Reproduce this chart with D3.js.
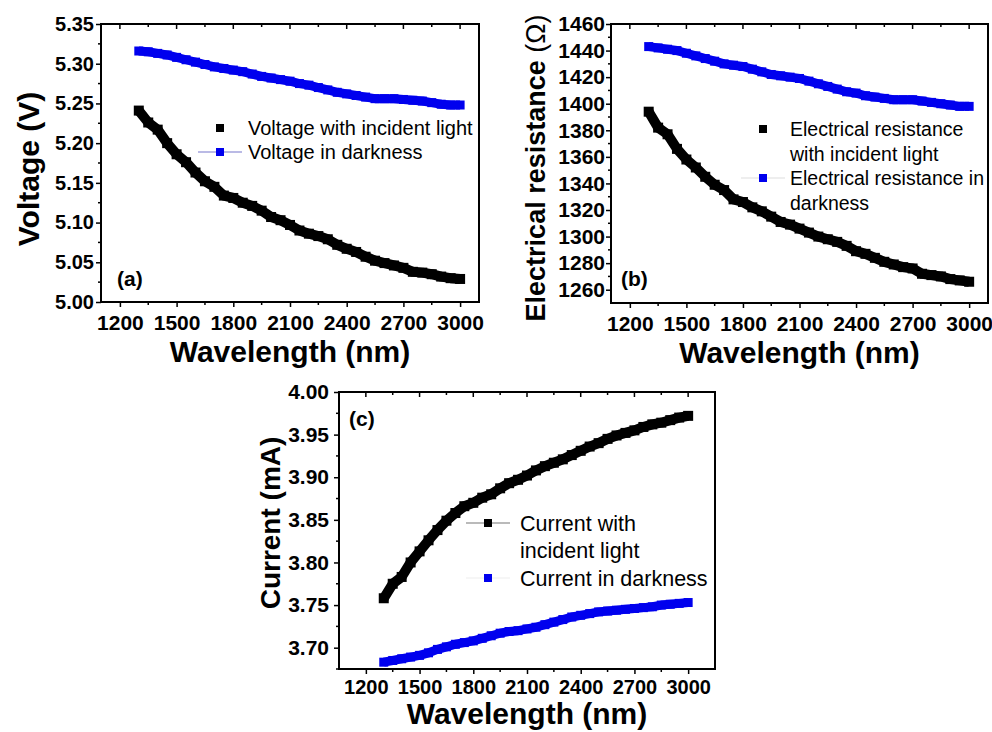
<!DOCTYPE html>
<html>
<head>
<meta charset="utf-8">
<script src="https://cdn.jsdelivr.net/npm/d3@7"></script>
<style>
  body { margin: 0; background: #fff; }
  svg { display: block; font-family: "Liberation Sans", Arial, sans-serif; }
</style>
</head>
<body>
<svg width="992" height="732"></svg>
<script>
// wavelengths (nm), shared by all three panels
const wavelength = [1300,1350,1400,1450,1500,1550,1600,1650,1700,1750,1800,1850,1900,1950,2000,2050,2100,2150,2200,2250,2300,2350,2400,2450,2500,2550,2600,2650,2700,2750,2800,2850,2900,2950,3000];

// (a) voltage, V
const voltageLight = [5.241,5.226,5.217,5.200,5.186,5.176,5.163,5.152,5.145,5.134,5.131,5.125,5.121,5.115,5.107,5.103,5.097,5.090,5.086,5.083,5.079,5.072,5.067,5.063,5.057,5.052,5.049,5.046,5.043,5.038,5.037,5.035,5.032,5.030,5.029];
const voltageDark = [5.316,5.315,5.313,5.311,5.308,5.305,5.302,5.299,5.296,5.294,5.292,5.290,5.287,5.284,5.282,5.280,5.278,5.275,5.273,5.270,5.267,5.264,5.262,5.260,5.258,5.256,5.256,5.256,5.255,5.254,5.253,5.251,5.249,5.248,5.248];

// (b) electrical resistance, ohm
const resistLight = [1394,1382,1377,1366,1358,1352,1345,1339,1335,1328,1326,1322,1319,1315,1311,1309,1306,1303,1300,1298,1296,1293,1289,1287,1284,1281,1279,1277,1276,1272,1271,1270,1268,1267,1266];
const resistDark = [1443,1442,1441,1440,1438,1436,1434,1432,1430,1429,1428,1426,1424,1422,1421,1420,1419,1417,1415,1413,1411,1409,1408,1406,1405,1404,1403,1403,1403,1402,1401,1400,1399,1398,1398];

// (c) current, mA
const currentLight = [3.758,3.775,3.783,3.800,3.813,3.826,3.838,3.849,3.858,3.866,3.870,3.876,3.880,3.887,3.893,3.897,3.902,3.908,3.913,3.917,3.921,3.926,3.931,3.936,3.940,3.945,3.949,3.952,3.955,3.959,3.962,3.964,3.967,3.970,3.972];
const currentDark = [3.683,3.685,3.687,3.689,3.691,3.694,3.698,3.701,3.704,3.706,3.708,3.711,3.714,3.717,3.719,3.720,3.722,3.724,3.727,3.730,3.733,3.736,3.738,3.740,3.742,3.743,3.744,3.745,3.746,3.747,3.748,3.750,3.751,3.752,3.753];

const xTicks = [1200,1500,1800,2100,2400,2700,3000];
const yTicksA = [5.00,5.05,5.10,5.15,5.20,5.25,5.30,5.35];
const yTicksB = [1260,1280,1300,1320,1340,1360,1380,1400,1420,1440,1460];
const yTicksC = [3.70,3.75,3.80,3.85,3.90,3.95,4.00];

const svg = d3.select("svg");
const BLUE = "#0000ee";

function panel(o) {
  const x = d3.scaleLinear().domain(o.xDom).range([o.left, o.right]);
  const y = d3.scaleLinear().domain(o.yDom).range([o.bottom, o.top]);
  const g = svg.append("g");

  // series: thick band of overlapping square markers
  [[o.light, "#000", 10], [o.dark, BLUE, 9]].forEach(([vals, col, w]) => {
    const pts = wavelength.map((d, i) => [x(d), y(vals[i])]);
    g.append("path")
      .attr("d", d3.line()(pts))
      .attr("fill", "none").attr("stroke", col)
      .attr("stroke-width", w).attr("stroke-linejoin", "round");
    g.selectAll(null).data(pts).enter().append("rect")
      .attr("x", d => d[0] - w / 2).attr("y", d => d[1] - w / 2)
      .attr("width", w).attr("height", w).attr("fill", col);
  });

  // bottom axis
  const minorX = d3.range(1050, 3151, 150).filter(v => v > o.xDom[0] && v < o.xDom[1] && !xTicks.includes(v));
  const ax = g.append("g").attr("transform", `translate(0,${o.bottom})`)
    .call(d3.axisBottom(x).tickValues(xTicks).tickFormat(d3.format("d")).tickSize(5).tickSizeOuter(0).tickPadding(o.xPad));
  ax.selectAll("text").attr("font-size", o.xFont).attr("font-weight", "bold").attr("fill", "#000")
    .attr("font-family", "Liberation Sans, Arial, sans-serif");
  g.selectAll(null).data(minorX).enter().append("line")
    .attr("x1", d => x(d)).attr("x2", d => x(d)).attr("y1", o.bottom).attr("y2", o.bottom + 3)
    .attr("stroke", "#000").attr("stroke-width", 1.5);

  // top ticks (inward)
  g.selectAll(null).data(xTicks).enter().append("line")
    .attr("x1", d => x(d)).attr("x2", d => x(d)).attr("y1", o.top).attr("y2", o.top + 5)
    .attr("stroke", "#000").attr("stroke-width", 1.5);
  g.selectAll(null).data(minorX).enter().append("line")
    .attr("x1", d => x(d)).attr("x2", d => x(d)).attr("y1", o.top).attr("y2", o.top + 3)
    .attr("stroke", "#000").attr("stroke-width", 1.5);

  // left axis
  const ay = g.append("g").attr("transform", `translate(${o.left},0)`)
    .call(d3.axisLeft(y).tickValues(o.yTicks).tickFormat(d3.format(o.yFmt)).tickSize(5).tickSizeOuter(0).tickPadding(o.yPad));
  ay.selectAll("text").attr("font-size", o.yFont).attr("font-weight", "bold").attr("fill", "#000")
    .attr("font-family", "Liberation Sans, Arial, sans-serif");
  const step = o.yTicks[1] - o.yTicks[0];
  const minorY = o.yTicks.map(v => v - step / 2).filter(v => v > o.yDom[0]);
  g.selectAll(null).data(minorY).enter().append("line")
    .attr("x1", o.left - 3).attr("x2", o.left).attr("y1", d => y(d)).attr("y2", d => y(d))
    .attr("stroke", "#000").attr("stroke-width", 1.5);
  g.selectAll(".tick line").attr("stroke-width", 1.5);
  g.selectAll(".domain").remove();

  // frame
  g.append("rect").attr("x", o.left).attr("y", o.top)
    .attr("width", o.right - o.left).attr("height", o.bottom - o.top)
    .attr("fill", "none").attr("stroke", "#000").attr("stroke-width", 2);

  // titles
  g.append("text").attr("x", (o.left + o.right) / 2).attr("y", o.xTitleY)
    .attr("text-anchor", "middle").attr("font-size", 30).attr("font-weight", "bold")
    .text("Wavelength (nm)");
  const yt = g.append("text")
    .attr("transform", `translate(${o.yTitleX},${o.yTitleY}) rotate(-90)`)
    .attr("text-anchor", "middle").attr("font-size", o.yTitleFont).attr("font-weight", "bold");
  yt.append("tspan").text(o.yTitle);
  if (o.yUnit) yt.append("tspan").attr("font-weight", "normal").text(o.yUnit);

  g.append("text").attr("x", o.tagX).attr("y", o.tagY)
    .attr("font-size", 21).attr("font-weight", "bold").text(o.tag);

  // legend
  o.legend.forEach(row => {
    if (row.line) {
      g.append("line").attr("x1", row.sx - 22).attr("x2", row.sx + 22)
        .attr("y1", row.y).attr("y2", row.y).attr("stroke", row.line).attr("stroke-width", 1.2);
    }
    g.append("rect").attr("x", row.sx - 4).attr("y", row.y - 4)
      .attr("width", 8).attr("height", 8).attr("fill", row.color);
    row.text.forEach((t, i) => {
      g.append("text").attr("x", row.tx).attr("y", row.y + o.legFont * 0.36 + i * o.legGap)
        .attr("font-size", o.legFont).text(t);
    });
  });
}

panel({
  left: 101, right: 479, top: 24, bottom: 302,
  xDom: [1100, 3100], yDom: [5.00, 5.35], yTicks: yTicksA, yFmt: ".2f",
  light: voltageLight, dark: voltageDark,
  xFont: 21, xPad: 8, yFont: 20, yPad: 2,
  xTitleY: 362, yTitle: "Voltage (V)", yTitleX: 39, yTitleY: 169, yTitleFont: 30,
  tag: "(a)", tagX: 117, tagY: 286,
  legFont: 20, legGap: 24,
  legend: [
    { sx: 220, y: 128, color: "#000", tx: 248, text: ["Voltage with incident light"] },
    { sx: 220, y: 152, color: BLUE, line: "#7777cc", tx: 248, text: ["Voltage in darkness"] }
  ]
});

panel({
  left: 611, right: 988, top: 24, bottom: 303,
  xDom: [1100, 3100], yDom: [1250, 1460], yTicks: yTicksB, yFmt: "d",
  light: resistLight, dark: resistDark,
  xFont: 21, xPad: 8, yFont: 21, yPad: 1,
  xTitleY: 363, yTitle: "Electrical resistance ", yUnit: "(Ω)", yTitleX: 545, yTitleY: 168, yTitleFont: 27,
  tag: "(b)", tagX: 621, tagY: 286,
  legFont: 19.5, legGap: 24.5,
  legend: [
    { sx: 763, y: 129, color: "#000", tx: 790, text: ["Electrical resistance", "with incident light"] },
    { sx: 763, y: 178, color: BLUE, line: "#dddddd", tx: 790, text: ["Electrical resistance in", "darkness"] }
  ]
});

panel({
  left: 339, right: 715, top: 392, bottom: 669,
  xDom: [1050, 3150], yDom: [3.675, 4.00], yTicks: yTicksC, yFmt: ".2f",
  light: currentLight, dark: currentDark,
  xFont: 20, xPad: 6, yFont: 21, yPad: 5,
  xTitleY: 724, yTitle: "Current (mA)", yTitleX: 280, yTitleY: 523, yTitleFont: 28,
  tag: "(c)", tagX: 349, tagY: 426,
  legFont: 21.5, legGap: 27,
  legend: [
    { sx: 488, y: 523, color: "#000", line: "#777777", tx: 520, text: ["Current with", "incident light"] },
    { sx: 488, y: 578, color: BLUE, line: "#eeeeee", tx: 520, text: ["Current in darkness"] }
  ]
});
</script>
</body>
</html>
